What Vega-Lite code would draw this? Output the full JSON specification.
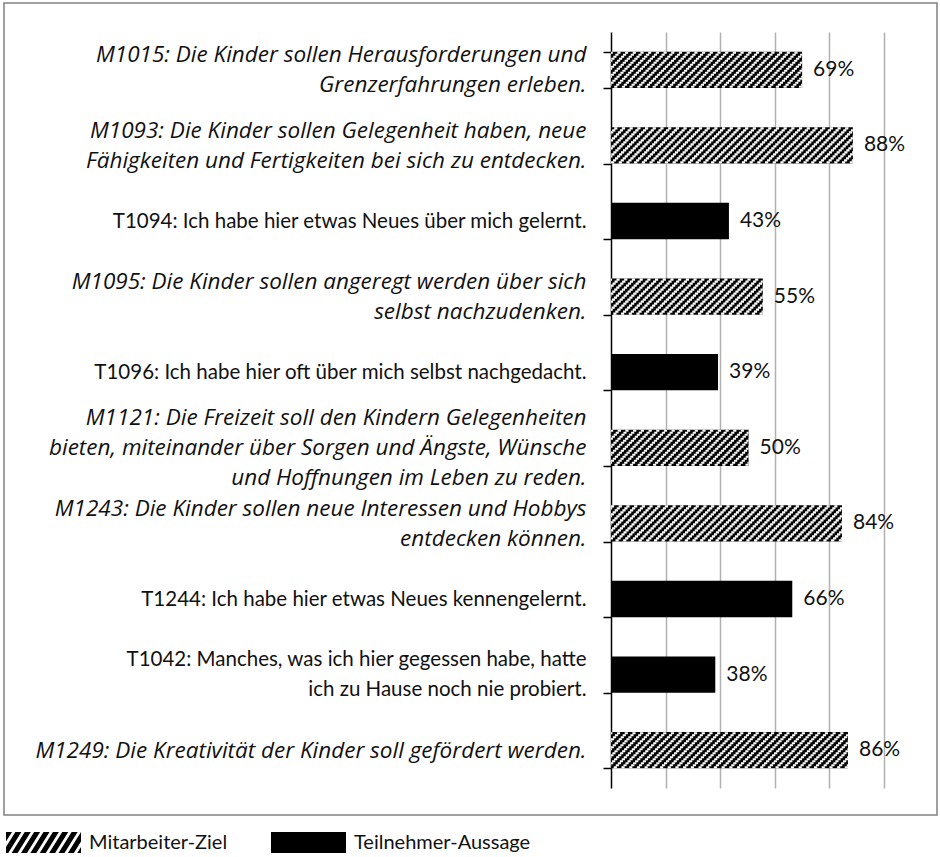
{
  "$schema": "https://vega.github.io/schema/vega-lite/v6.json",
  "autosize": {"type": "none"},
  "width": 273,
  "height": 756,
  "padding": {"left": 611, "top": 32, "right": 56, "bottom": 69},
  "background": "white",
  "config": {"view": {"stroke": null}, "font": "Lato"},
  "data": {
    "values": [
      {"cat": "M1015: Die Kinder sollen Herausforderungen und|Grenzerfahrungen erleben.", "typ": "Mitarbeiter-Ziel", "v": 0.70, "label": "69%"},
      {"cat": "M1093: Die Kinder sollen Gelegenheit haben, neue|Fähigkeiten und Fertigkeiten bei sich zu entdecken.", "typ": "Mitarbeiter-Ziel", "v": 0.886, "label": "88%"},
      {"cat": "T1094: Ich habe hier etwas Neues über mich gelernt.", "typ": "Teilnehmer-Aussage", "v": 0.432, "label": "43%"},
      {"cat": "M1095: Die Kinder sollen angeregt werden über sich|selbst nachzudenken.", "typ": "Mitarbeiter-Ziel", "v": 0.556, "label": "55%"},
      {"cat": "T1096: Ich habe hier oft über mich selbst nachgedacht.", "typ": "Teilnehmer-Aussage", "v": 0.392, "label": "39%"},
      {"cat": "M1121: Die Freizeit soll den Kindern Gelegenheiten|bieten, miteinander über Sorgen und Ängste, Wünsche|und Hoffnungen im Leben zu reden.", "typ": "Mitarbeiter-Ziel", "v": 0.504, "label": "50%"},
      {"cat": "M1243: Die Kinder sollen neue Interessen und Hobbys|entdecken können.", "typ": "Mitarbeiter-Ziel", "v": 0.846, "label": "84%"},
      {"cat": "T1244: Ich habe hier etwas Neues kennengelernt.", "typ": "Teilnehmer-Aussage", "v": 0.664, "label": "66%"},
      {"cat": "T1042: Manches, was ich hier gegessen habe, hatte|ich zu Hause noch nie probiert.", "typ": "Teilnehmer-Aussage", "v": 0.382, "label": "38%"},
      {"cat": "M1249: Die Kreativität der Kinder soll gefördert werden.", "typ": "Mitarbeiter-Ziel", "v": 0.868, "label": "86%"}
    ]
  },
  "layer": [
    {
      "data": {"values": [{"frame": 1}]},
      "mark": {"type": "rect", "filled": false, "stroke": "#808080", "strokeWidth": 1.5},
      "encoding": {
        "x": {"value": -607},
        "x2": {"value": 326},
        "y": {"value": -29},
        "y2": {"value": 783}
      }
    },
    {
      "mark": {"type": "bar", "color": "#000000"},
      "encoding": {
        "x": {
          "field": "v", "type": "quantitative", "stack": null,
          "scale": {"domain": [0, 1], "nice": false},
          "axis": {
            "values": [0.2, 0.4, 0.6, 0.8, 1.0],
            "grid": true, "gridColor": "#b0b0b0", "gridWidth": 1.5,
            "labels": false, "ticks": false, "domain": false, "title": null
          }
        },
        "y": {
          "field": "cat", "type": "nominal", "sort": null,
          "scale": {"paddingInner": 0.52, "paddingOuter": 0.26},
          "axis": {
            "title": null,
            "domainColor": "#000000", "domainWidth": 1.5,
            "tickColor": "#000000", "tickWidth": 1.5, "tickSize": 8, "tickBand": "extent",
            "labelExpr": "datum.value ? split(datum.value, '|') : ''",
            "labelLineHeight": 30,
            "labelColor": "#111111", "labelPadding": 17, "labelLimit": 600,
            "labelFontSize": {"condition": {"test": "datum.value && substring(datum.value, 0, 1) === 'M'", "value": 22.5}, "value": 20.5},
            "labelFont": {"condition": {"test": "datum.value && substring(datum.value, 0, 1) === 'M'", "value": "Open Sans"}, "value": "Lato"},
            "labelFontStyle": {"condition": {"test": "datum.value && substring(datum.value, 0, 1) === 'M'", "value": "italic"}, "value": "normal"},
            "labelOffset": {"condition": [
              {"test": "datum.value && length(split(datum.value, '|')) === 3", "value": -30},
              {"test": "datum.value && length(split(datum.value, '|')) === 2", "value": -15}
            ], "value": 0}
          }
        }
      }
    },
    {
      "mark": {"type": "point", "filled": true, "color": "#000000", "opacity": 0},
      "encoding": {
        "x": {"field": "v", "type": "quantitative"},
        "y": {"field": "cat", "type": "nominal", "sort": null},
        "shape": {
          "field": "typ", "type": "nominal",
          "scale": {
            "domain": ["Mitarbeiter-Ziel", "Teilnehmer-Aussage"],
            "range": [
              "M-1,-0.024L-0.84,-0.28L-1,-0.28Z M-1,0.28L-0.94,0.28L-0.59,-0.28L-0.75,-0.28L-1,0.12Z M-0.85,0.28L-0.69,0.28L-0.34,-0.28L-0.5,-0.28Z M-0.6,0.28L-0.44,0.28L-0.09,-0.28L-0.25,-0.28Z M-0.35,0.28L-0.19,0.28L0.16,-0.28L0,-0.28Z M-0.1,0.28L0.06,0.28L0.41,-0.28L0.25,-0.28Z M0.15,0.28L0.31,0.28L0.66,-0.28L0.5,-0.28Z M0.4,0.28L0.56,0.28L0.91,-0.28L0.75,-0.28Z M0.65,0.28L0.81,0.28L1,-0.024L1,-0.28Z M0.9,0.28L1,0.28L1,0.12Z",
              "M-1,-0.28H1V0.28H-1Z"
            ]
          },
          "legend": {
            "orient": "none", "legendX": -605, "legendY": 773,
            "direction": "horizontal", "title": null, "padding": 0,
            "symbolSize": 5625, "symbolStrokeWidth": 0, "symbolOpacity": 1,
            "symbolFillColor": "#000000",
            "labelFont": "Lato", "labelFontSize": 20, "labelColor": "#111111", "labelOffset": 8, "labelLimit": 400,
            "columnPadding": 5, "gridAlign": "all",
            "encode": {
              "labels": {
                "fontStyle": {"condition": {"test": "datum.value === 'Mitarbeiter-Ziel'", "value": "italic"}, "value": "normal"}
              }
            }
          }
        }
      }
    },
    {
      "transform": [{"filter": "datum.typ === 'Mitarbeiter-Ziel'"}],
      "encoding": {
        "x": {"field": "v", "type": "quantitative"},
        "x2": {"datum": 0},
        "y": {"field": "cat", "type": "nominal", "sort": null}
      },
      "layer": [
        {"mark": {"type": "rule", "color": "#ffffff", "strokeWidth": 2.1, "strokeCap": "butt", "strokeDash": [3.2, 4.5], "yOffset": -17, "strokeDashOffset": 34}},
        {"mark": {"type": "rule", "color": "#ffffff", "strokeWidth": 2.1, "strokeCap": "butt", "strokeDash": [3.2, 4.5], "yOffset": -15, "strokeDashOffset": 32}},
        {"mark": {"type": "rule", "color": "#ffffff", "strokeWidth": 2.1, "strokeCap": "butt", "strokeDash": [3.2, 4.5], "yOffset": -13, "strokeDashOffset": 30}},
        {"mark": {"type": "rule", "color": "#ffffff", "strokeWidth": 2.1, "strokeCap": "butt", "strokeDash": [3.2, 4.5], "yOffset": -11, "strokeDashOffset": 28}},
        {"mark": {"type": "rule", "color": "#ffffff", "strokeWidth": 2.1, "strokeCap": "butt", "strokeDash": [3.2, 4.5], "yOffset": -9, "strokeDashOffset": 26}},
        {"mark": {"type": "rule", "color": "#ffffff", "strokeWidth": 2.1, "strokeCap": "butt", "strokeDash": [3.2, 4.5], "yOffset": -7, "strokeDashOffset": 24}},
        {"mark": {"type": "rule", "color": "#ffffff", "strokeWidth": 2.1, "strokeCap": "butt", "strokeDash": [3.2, 4.5], "yOffset": -5, "strokeDashOffset": 22}},
        {"mark": {"type": "rule", "color": "#ffffff", "strokeWidth": 2.1, "strokeCap": "butt", "strokeDash": [3.2, 4.5], "yOffset": -3, "strokeDashOffset": 20}},
        {"mark": {"type": "rule", "color": "#ffffff", "strokeWidth": 2.1, "strokeCap": "butt", "strokeDash": [3.2, 4.5], "yOffset": -1, "strokeDashOffset": 18}},
        {"mark": {"type": "rule", "color": "#ffffff", "strokeWidth": 2.1, "strokeCap": "butt", "strokeDash": [3.2, 4.5], "yOffset": 1, "strokeDashOffset": 16}},
        {"mark": {"type": "rule", "color": "#ffffff", "strokeWidth": 2.1, "strokeCap": "butt", "strokeDash": [3.2, 4.5], "yOffset": 3, "strokeDashOffset": 14}},
        {"mark": {"type": "rule", "color": "#ffffff", "strokeWidth": 2.1, "strokeCap": "butt", "strokeDash": [3.2, 4.5], "yOffset": 5, "strokeDashOffset": 12}},
        {"mark": {"type": "rule", "color": "#ffffff", "strokeWidth": 2.1, "strokeCap": "butt", "strokeDash": [3.2, 4.5], "yOffset": 7, "strokeDashOffset": 10}},
        {"mark": {"type": "rule", "color": "#ffffff", "strokeWidth": 2.1, "strokeCap": "butt", "strokeDash": [3.2, 4.5], "yOffset": 9, "strokeDashOffset": 8}},
        {"mark": {"type": "rule", "color": "#ffffff", "strokeWidth": 2.1, "strokeCap": "butt", "strokeDash": [3.2, 4.5], "yOffset": 11, "strokeDashOffset": 6}},
        {"mark": {"type": "rule", "color": "#ffffff", "strokeWidth": 2.1, "strokeCap": "butt", "strokeDash": [3.2, 4.5], "yOffset": 13, "strokeDashOffset": 4}},
        {"mark": {"type": "rule", "color": "#ffffff", "strokeWidth": 2.1, "strokeCap": "butt", "strokeDash": [3.2, 4.5], "yOffset": 15, "strokeDashOffset": 2}},
        {"mark": {"type": "rule", "color": "#ffffff", "strokeWidth": 2.1, "strokeCap": "butt", "strokeDash": [3.2, 4.5], "yOffset": 17, "strokeDashOffset": 0}}
      ]
    },
    {
      "mark": {"type": "text", "align": "left", "baseline": "middle", "dx": 11, "font": "Lato", "fontSize": 21, "color": "#111111"},
      "encoding": {
        "x": {"field": "v", "type": "quantitative"},
        "y": {"field": "cat", "type": "nominal", "sort": null},
        "text": {"field": "label", "type": "nominal"}
      }
    }
  ]
}
